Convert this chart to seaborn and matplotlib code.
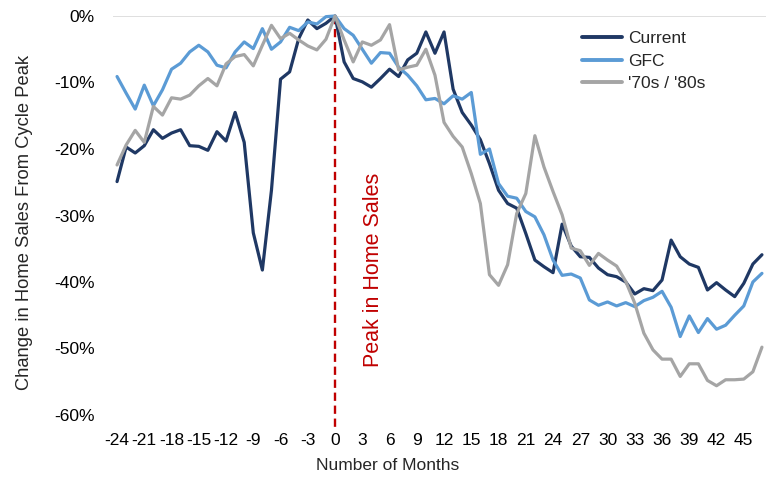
import numpy as np
import pandas as pd
import matplotlib
matplotlib.use("Agg")
import matplotlib.pyplot as plt
import seaborn as sns

months = list(range(-24, 48))

current = [
    -24.9, -19.7, -20.6, -19.5, -17.1, -18.4, -17.6, -17.1, -19.5, -19.6,
    -20.2, -17.4, -18.8, -14.5, -19.0, -32.6, -38.2, -26.2, -9.5, -8.4,
    -3.4, -0.6, -1.9, -1.1, 0.0, -6.9, -9.4, -9.9, -10.7, -9.4,
    -8.0, -9.1, -6.6, -5.6, -2.4, -5.6, -2.4, -11.0, -14.5, -16.4,
    -18.6, -22.2, -26.2, -28.2, -28.9, -32.7, -36.7, -37.7, -38.6, -31.3,
    -34.6, -36.2, -36.3, -37.9, -38.9, -39.2, -40.0, -41.8, -41.0, -41.3,
    -39.7, -33.7, -36.2, -37.3, -37.8, -41.2, -40.1, -41.2, -42.2, -40.2,
    -37.3, -35.9,
]

gfc = [
    -9.1, -11.6, -14.0, -10.4, -13.5, -11.1, -8.0, -7.1, -5.4, -4.4,
    -5.4, -7.4, -7.8, -5.4, -3.9, -4.9, -1.9, -5.0, -3.9, -1.7,
    -2.2, -0.9, -1.2, -0.1, 0.0, -1.9, -2.9, -5.0, -7.1, -5.5,
    -5.6, -7.7, -8.9, -10.5, -12.6, -12.4, -13.2, -12.0, -12.5, -11.5,
    -20.8, -20.0, -25.2, -27.1, -27.4, -29.4, -30.2, -32.9, -36.7, -39.0,
    -38.8, -39.4, -42.7, -43.5, -43.0, -43.6, -43.1, -43.7, -42.8, -42.3,
    -41.4, -43.8, -48.2, -45.1, -47.6, -45.5, -47.1, -46.5, -45.0, -43.6,
    -40.0, -38.7,
]

seventies_eighties = [
    -22.4, -19.4, -17.2, -19.0, -13.6, -14.9, -12.3, -12.5, -11.9, -10.5,
    -9.4, -10.5, -7.2, -6.1, -5.8, -7.5, -4.4, -1.4, -3.4, -2.6,
    -3.6, -4.5, -5.1, -3.5, 0.0, -3.6, -6.9, -3.9, -4.4, -3.6,
    -1.3, -8.1, -7.7, -7.4, -5.0, -8.9, -16.0, -18.1, -19.7, -23.7,
    -28.2, -38.9, -40.5, -37.4, -29.7, -26.7, -18.0, -22.7, -26.4, -29.9,
    -34.9, -35.3, -37.5, -35.7, -36.7, -37.6, -39.9, -43.2, -47.7, -50.2,
    -51.6, -51.6, -54.2, -52.3, -52.3, -54.8, -55.6, -54.7, -54.7, -54.6,
    -53.5, -49.8,
]

series_names = ["Current", "GFC", "'70s / '80s"]
series_colors = ["#1F3864", "#5B9BD5", "#A5A5A5"]
x_ticks = list(range(-24, 46, 3))
y_ticks = [0, -10, -20, -30, -40, -50, -60]

df = pd.concat(
    [
        pd.DataFrame({"month": months, "change": vals, "series": name})
        for name, vals in zip(series_names, [current, gfc, seventies_eighties])
    ],
    ignore_index=True,
)

sns.set_theme(style="white")
plt.rcParams["font.family"] = ["Liberation Sans", "DejaVu Sans"]

fig = plt.figure(figsize=(7.73, 4.82), dpi=100)
ax = fig.add_axes([112.5 / 773, 1 - 415 / 482, 654 / 773, 399 / 482])

sns.lineplot(
    data=df, x="month", y="change", hue="series",
    hue_order=series_names, palette=series_colors,
    linewidth=2.3, ax=ax, clip_on=False, legend=True,
)

# zero reference line across the top of the plot
ax.axhline(0, color="#D9D9D9", linewidth=1.2, zorder=0)

# vertical marker at the cycle peak
ax.plot([0, 0], [0, -62], color="#C00000", linewidth=1.7,
        linestyle=(0, (3.5, 2)), clip_on=False, zorder=1)
ax.text(4.2, -38.2, "Peak in Home Sales", rotation=90, color="#C00000",
        fontsize=15.5, ha="center", va="center")

ax.set_xlim(-24.5, 47.5)
ax.set_ylim(-60, 0)
ax.set_xticks(x_ticks)
ax.set_xticklabels([str(t) for t in x_ticks])
ax.set_yticks(y_ticks)
ax.set_yticklabels([f"{t}%" for t in y_ticks])
ax.tick_params(axis="both", length=0, labelsize=12.5, colors="black")
ax.tick_params(axis="y", pad=13)
ax.tick_params(axis="x", pad=13)

for side in ["top", "right", "left", "bottom"]:
    ax.spines[side].set_visible(False)

ax.set_xlabel("Number of Months", fontsize=12.5)
ax.xaxis.set_label_coords(0.421, -0.108)
ax.set_ylabel("")
fig.text(25 / 773, 1 - 222 / 482, "Change in Home Sales From Cycle Peak",
         rotation=90, ha="center", va="center", fontsize=13.2)

leg = ax.legend(
    loc="upper left", bbox_to_anchor=(582 / 773, 1 - 31 / 482),
    bbox_transform=fig.transFigure, frameon=False, fontsize=12.5,
    handlelength=2.3, handletextpad=0.35, labelspacing=0.42,
    borderaxespad=0, borderpad=0,
)
for line in leg.get_lines():
    line.set_linewidth(2.8)

fig.savefig("out.png", dpi=100)
